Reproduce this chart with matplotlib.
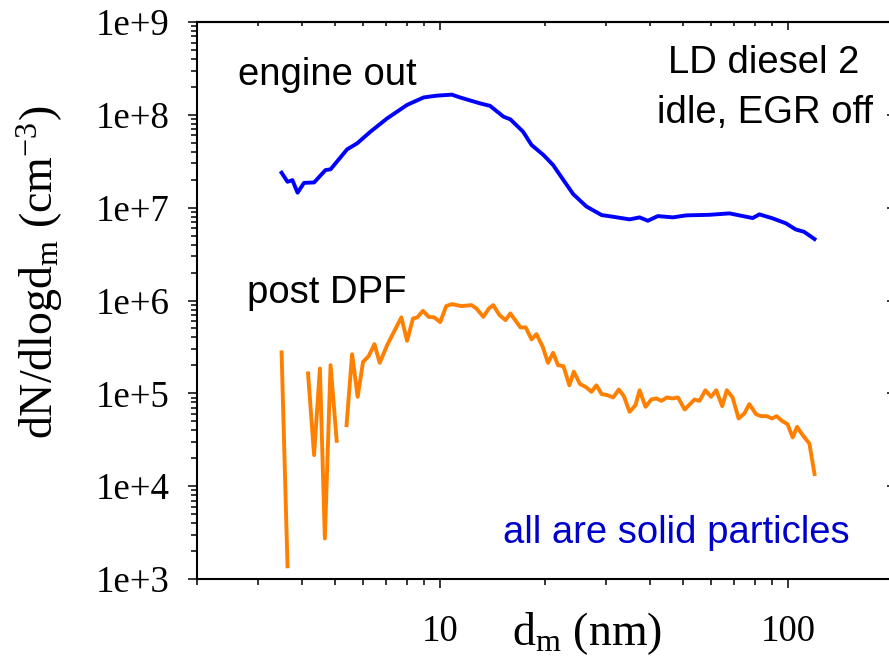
import numpy as np
import matplotlib
matplotlib.use('Agg')
import matplotlib.pyplot as plt
from matplotlib.ticker import LogLocator, FixedLocator, FixedFormatter, NullLocator, NullFormatter

# size distributions (d_m in nm, dN/dlogd_m in cm^-3)
engine_d = [3.50, 3.64, 3.76, 3.89, 4.06, 4.34, 4.68, 4.84, 5.40, 5.77, 6.30, 7.04,
            8.03, 8.96, 9.78, 10.8, 11.4, 13.0, 13.9, 15.2, 15.9, 17.3, 18.3, 19.8,
            21.1, 22.6, 24.1, 26.3, 29.1, 31.4, 35.0, 37.4, 39.5, 42.2, 46.6, 50.9,
            59.4, 67.8, 79.0, 82.6, 90.2, 98.5, 105, 111, 119]
engine_n = [2.38e7, 1.90e7, 1.98e7, 1.45e7, 1.85e7, 1.87e7, 2.54e7, 2.59e7, 4.25e7,
            4.93e7, 6.58e7, 9.17e7, 1.28e8, 1.54e8, 1.61e8, 1.65e8, 1.54e8, 1.33e8,
            1.25e8, 9.55e7, 8.95e7, 6.58e7, 4.73e7, 3.69e7, 2.88e7, 1.98e7, 1.40e7,
            1.03e7, 8.32e6, 7.98e6, 7.48e6, 7.86e6, 7.23e6, 8.12e6, 7.86e6, 8.26e6,
            8.38e6, 8.68e6, 7.73e6, 8.47e6, 7.67e6, 6.78e6, 5.83e6, 5.50e6, 4.59e6]

# nan = gaps where the post-DPF count was zero
dpf_d = [3.50, 3.64, 3.9,
         4.17, 4.34, 4.51, 4.66, 4.84, 5.04, 5.2,
         5.38, 5.58, 5.79, 6.00, 6.23, 6.47, 6.70, 7.04, 7.73, 8.03, 8.35, 8.58,
         8.92, 9.26, 9.61, 10.0, 10.4, 10.8, 11.5, 12.3, 12.7, 13.3, 13.8, 14.2,
         14.8, 15.4, 15.9, 17.0, 17.6, 18.3, 18.9, 19.7, 20.4, 21.1, 21.8, 22.6,
         23.5, 24.2, 25.2, 26.2, 27.2, 28.1, 29.1, 30.2, 31.4, 32.6, 33.7, 35.0,
         36.4, 37.4, 38.9, 40.4, 41.8, 43.2, 44.8, 46.4, 48.2, 50.4, 53.8, 55.6,
         57.8, 60.0, 62.1, 64.6, 66.6, 69.2, 72.0, 74.8, 77.3, 80.8, 83.5, 86.7,
         89.8, 92.6, 95.9, 99.5, 103, 106, 110, 115, 119]
dpf_n = [2.76e5, 1.37e3, np.nan,
         1.64e5, 2.16e4, 1.85e5, 2.73e3, 2.01e5, 3.08e4, np.nan,
         4.54e4, 2.64e5, 9.17e4, 2.18e5, 2.52e5, 3.39e5, 2.13e5, 3.31e5, 6.58e5,
         3.68e5, 6.41e5, 6.55e5, 7.74e5, 6.67e5, 6.58e5, 5.85e5, 8.70e5, 9.15e5,
         8.70e5, 8.92e5, 8.22e5, 6.67e5, 8.22e5, 8.92e5, 6.97e5, 6.15e5, 7.26e5,
         5.13e5, 5.13e5, 3.81e5, 4.35e5, 3.17e5, 2.13e5, 2.73e5, 2.01e5, 1.96e5,
         1.22e5, 1.71e5, 1.26e5, 1.17e5, 1.04e5, 1.22e5, 9.80e4, 9.57e4, 9.03e4,
         1.10e5, 9.33e4, 6.32e4, 7.46e4, 1.08e5, 7.16e4, 8.59e4, 8.81e4, 8.30e4,
         9.03e4, 8.81e4, 9.03e4, 6.70e4, 8.59e4, 8.30e4, 1.08e5, 9.17e4, 1.08e5,
         7.28e4, 1.08e5, 9.03e4, 5.36e4, 6.07e4, 7.65e4, 5.97e4, 5.68e4, 5.68e4,
         5.36e4, 5.68e4, 5.06e4, 4.66e4, 3.35e4, 4.36e4, 3.55e4, 2.88e4, 1.35e4]

y_ticks = [1e3, 1e4, 1e5, 1e6, 1e7, 1e8, 1e9]
y_labels = ['1e+3', '1e+4', '1e+5', '1e+6', '1e+7', '1e+8', '1e+9']
x_ticks = [10, 100]
x_labels = ['10', '100']

plt.rcParams['font.family'] = ['Liberation Serif', 'DejaVu Serif']
plt.rcParams['mathtext.fontset'] = 'custom'
plt.rcParams['mathtext.rm'] = 'Liberation Serif'
plt.rcParams['mathtext.it'] = 'Liberation Serif:italic'

fig = plt.figure(figsize=(8.89, 6.71), dpi=100)
ax = fig.add_axes([0.2216, 0.1371, 0.7829, 0.8301])

ax.plot(engine_d, engine_n, color='#0000ff', lw=2.8, solid_joinstyle='round')
ax.plot(dpf_d, dpf_n, color='#ff8000', lw=2.8, solid_joinstyle='round')

ax.set_xscale('log')
ax.set_yscale('log')
ax.set_xlim(2, 200)
ax.set_ylim(1e3, 1e9)

ax.xaxis.set_major_locator(FixedLocator(x_ticks))
ax.xaxis.set_major_formatter(FixedFormatter(x_labels))
ax.xaxis.set_minor_locator(LogLocator(base=10, subs=np.arange(2, 10), numticks=100))
ax.xaxis.set_minor_formatter(NullFormatter())
ax.yaxis.set_major_locator(FixedLocator(y_ticks))
ax.yaxis.set_major_formatter(FixedFormatter(y_labels))
ax.yaxis.set_minor_locator(LogLocator(base=10, subs=np.arange(2, 10), numticks=100))
ax.yaxis.set_minor_formatter(NullFormatter())

ax.tick_params(which='both', direction='out', top=False, right=False, width=1.1, labelsize=26.5)
ax.tick_params(which='major', length=6.5)
ax.tick_params(which='minor', length=4)
ax.tick_params(axis='x', pad=19)
ax.tick_params(axis='y', pad=13)
for s in ax.spines.values():
    s.set_linewidth(1.5)

# mirrored ticks on top / right point into the plot
top = ax.secondary_xaxis('top')
top.xaxis.set_major_locator(FixedLocator(x_ticks))
top.xaxis.set_minor_locator(LogLocator(base=10, subs=np.arange(2, 10), numticks=100))
top.xaxis.set_major_formatter(NullFormatter())
top.xaxis.set_minor_formatter(NullFormatter())
top.tick_params(which='both', direction='in', width=1.1)
top.tick_params(which='major', length=5.5)
top.tick_params(which='minor', length=3)
top.spines['top'].set_linewidth(1.5)

right = ax.secondary_yaxis('right')
right.yaxis.set_major_locator(FixedLocator(y_ticks))
right.yaxis.set_minor_locator(NullLocator())
right.yaxis.set_major_formatter(NullFormatter())
right.tick_params(which='major', direction='in', length=4, width=1.1)

ax.set_xlabel(r'd$_{\rm m}$ (nm)', fontsize=33)
ax.xaxis.set_label_coords(0.56, -0.055)
ax.set_ylabel(r'dN/dlogd$_{\rm m}$ (cm$^{-3}$)', fontsize=33)
ax.yaxis.set_label_coords(-0.19, 0.55)

sans = ['Liberation Sans', 'DejaVu Sans']
ax.text(0.059, 0.887, 'engine out', transform=ax.transAxes, fontsize=27.5, family=sans)
ax.text(0.072, 0.4955, 'post DPF', transform=ax.transAxes, fontsize=27.5, family=sans)
ax.text(0.814, 0.908, 'LD diesel 2', transform=ax.transAxes, fontsize=27.5, family=sans, ha='center')
ax.text(0.816, 0.819, 'idle, EGR off', transform=ax.transAxes, fontsize=27.5, family=sans, ha='center')
ax.text(0.44, 0.0646, 'all are solid particles', transform=ax.transAxes, fontsize=27.5,
        family=sans, color='#0000cc')

fig.savefig('out.png', dpi=100)
